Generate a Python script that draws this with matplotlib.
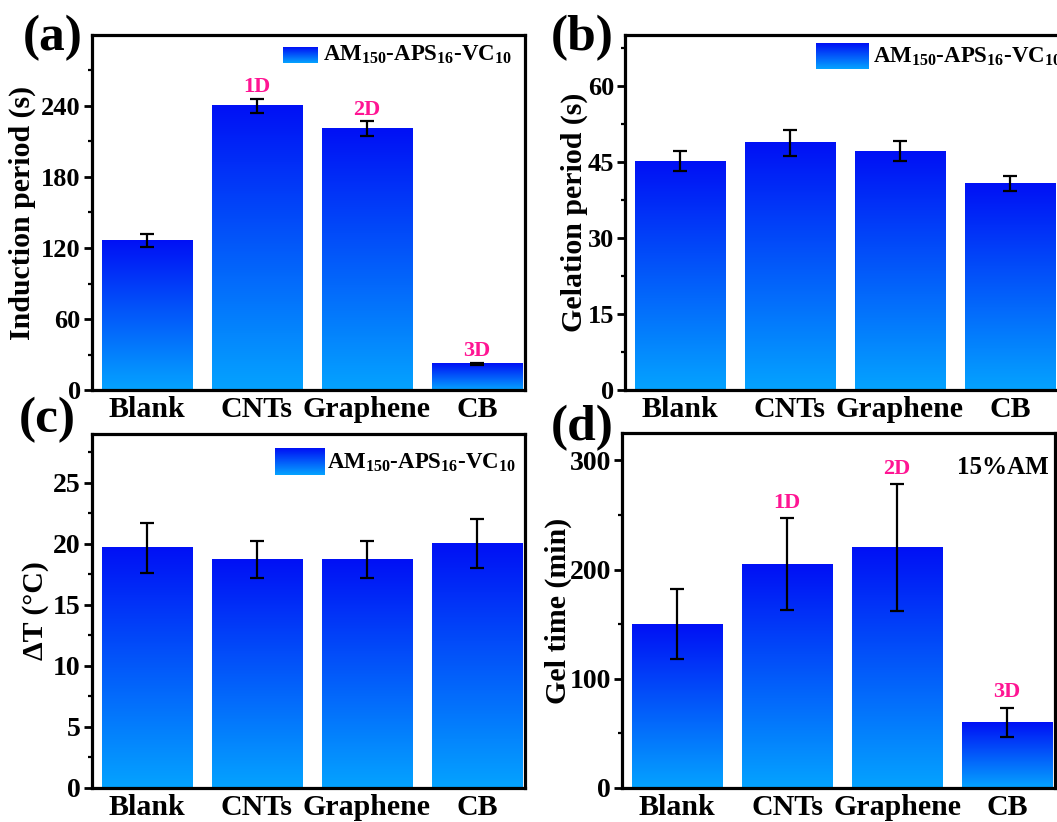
import matplotlib
matplotlib.use("Agg")
import matplotlib.pyplot as plt
import numpy as np
from matplotlib.colors import LinearSegmentedColormap

plt.rcParams["font.family"] = ["Liberation Serif", "DejaVu Serif"]
plt.rcParams["font.weight"] = "bold"
plt.rcParams["mathtext.fontset"] = "custom"
plt.rcParams["mathtext.rm"] = "Liberation Serif:bold"
plt.rcParams["mathtext.bf"] = "Liberation Serif:bold"
plt.rcParams["mathtext.default"] = "bf"

categories = ["Blank", "CNTs", "Graphene", "CB"]
series_name = "AM$_{150}$-APS$_{16}$-VC$_{10}$"

induction = [126, 240, 221, 22]
induction_err = [5.5, 6, 6, 1]

gelation = [45.1, 48.7, 47.1, 40.7]
gelation_err = [2, 2.5, 2, 1.5]

delta_t = [19.7, 18.7, 18.7, 20.0]
delta_t_err = [2.05, 1.5, 1.5, 2.0]

gel_time = [150, 205, 220, 60]
gel_time_err = [32, 42, 58, 13.5]

dim_labels = ["", "1D", "2D", "3D"]

CMAP = LinearSegmentedColormap.from_list("bluegrad", ["#05a3ff", "#0010f5"])
PINK = "#ff1493"
BAR_W = 0.82


def gradient_bars(ax, values, errors):
    x = np.arange(len(values))
    bars = ax.bar(x, values, width=BAR_W, color="none", edgecolor="none")
    grad = np.linspace(0, 1, 256).reshape(-1, 1)
    for bar in bars:
        x0, y0 = bar.get_xy()
        ax.imshow(grad, cmap=CMAP, origin="lower", aspect="auto", zorder=2,
                  extent=[x0, x0 + bar.get_width(), y0, y0 + bar.get_height()])
    ax.errorbar(x, values, yerr=errors, fmt="none", ecolor="black",
                elinewidth=1.6, capsize=5, capthick=1.6, zorder=3)
    return x


def style_axes(ax, ymax, top_major, major, minor, ylabel, label_x, tick_size):
    ax.set_xlim(-0.5, 3.44)
    ax.set_ylim(0, ymax)
    ax.set_yticks(np.arange(0, top_major + 0.01, major))
    ax.set_yticks(np.arange(minor, ymax, major), minor=True)
    ax.set_xticks(range(len(categories)))
    ax.set_xticklabels(categories, fontsize=21.5, fontweight="bold")
    for spine in ax.spines.values():
        spine.set_linewidth(2.3)
    ax.tick_params(axis="y", which="major", direction="out", length=6, width=2,
                   labelsize=tick_size, pad=2)
    ax.tick_params(axis="y", which="minor", direction="out", length=3, width=1.6)
    ax.tick_params(axis="x", length=0, pad=4)
    ax.set_ylabel(ylabel, fontsize=21.5, fontweight="bold")
    ax.yaxis.set_label_coords(label_x, 0.5)


def series_legend(ax, patch, text_x, text_y):
    grad = np.linspace(0, 1, 64).reshape(-1, 1)
    ax.imshow(grad, cmap=CMAP, origin="lower", aspect="auto", extent=patch,
              transform=ax.transAxes, zorder=4)
    ax.text(text_x, text_y, series_name, transform=ax.transAxes, fontsize=16.5,
            va="center", ha="left")


def dim_annotations(ax, x, values, errors, offset):
    for xi, v, e, lab in zip(x, values, errors, dim_labels):
        if lab:
            ax.annotate(lab, (xi, v + e), xytext=(0, offset), textcoords="offset points",
                        ha="center", va="bottom", color=PINK, fontsize=16, fontweight="bold")


fig = plt.figure(figsize=(10.57, 8.22), dpi=100)
ax_a = fig.add_axes([0.087, 0.5255, 0.410, 0.432])
ax_b = fig.add_axes([0.5913, 0.5255, 0.410, 0.432])
ax_c = fig.add_axes([0.087, 0.0414, 0.410, 0.4306])
ax_d = fig.add_axes([0.5885, 0.0414, 0.410, 0.4318])

x = gradient_bars(ax_a, induction, induction_err)
dim_annotations(ax_a, x, induction, induction_err, 1)
series_legend(ax_a, [0.441, 0.52, 0.921, 0.966], 0.533, 0.944)
style_axes(ax_a, 300, 240, 60, 30, "Induction period (s)", -0.13, 19)

x = gradient_bars(ax_b, gelation, gelation_err)
series_legend(ax_b, [0.441, 0.561, 0.904, 0.977], 0.573, 0.938)
style_axes(ax_b, 70, 60, 15, 7.5, "Gelation period (s)", -0.085, 19)

x = gradient_bars(ax_c, delta_t, delta_t_err)
series_legend(ax_c, [0.423, 0.538, 0.884, 0.96], 0.543, 0.918)
style_axes(ax_c, 29, 25, 5, 2.5, "ΔT (°C)", -0.1, 20)

x = gradient_bars(ax_d, gel_time, gel_time_err)
dim_annotations(ax_d, x, gel_time, gel_time_err, 4)
ax_d.text(0.774, 0.904, "15%AM", transform=ax_d.transAxes, fontsize=18,
          va="center", ha="left")
style_axes(ax_d, 325, 300, 100, 50, "Gel time (min)", -0.115, 20)

for label, (fx, fy) in zip(["(a)", "(b)", "(c)", "(d)"],
                           [(0.050, 0.954), (0.551, 0.954), (0.045, 0.489), (0.551, 0.479)]):
    fig.text(fx, fy, label, fontsize=37, fontweight="bold", ha="center", va="center")

fig.savefig("out.png", dpi=100)
